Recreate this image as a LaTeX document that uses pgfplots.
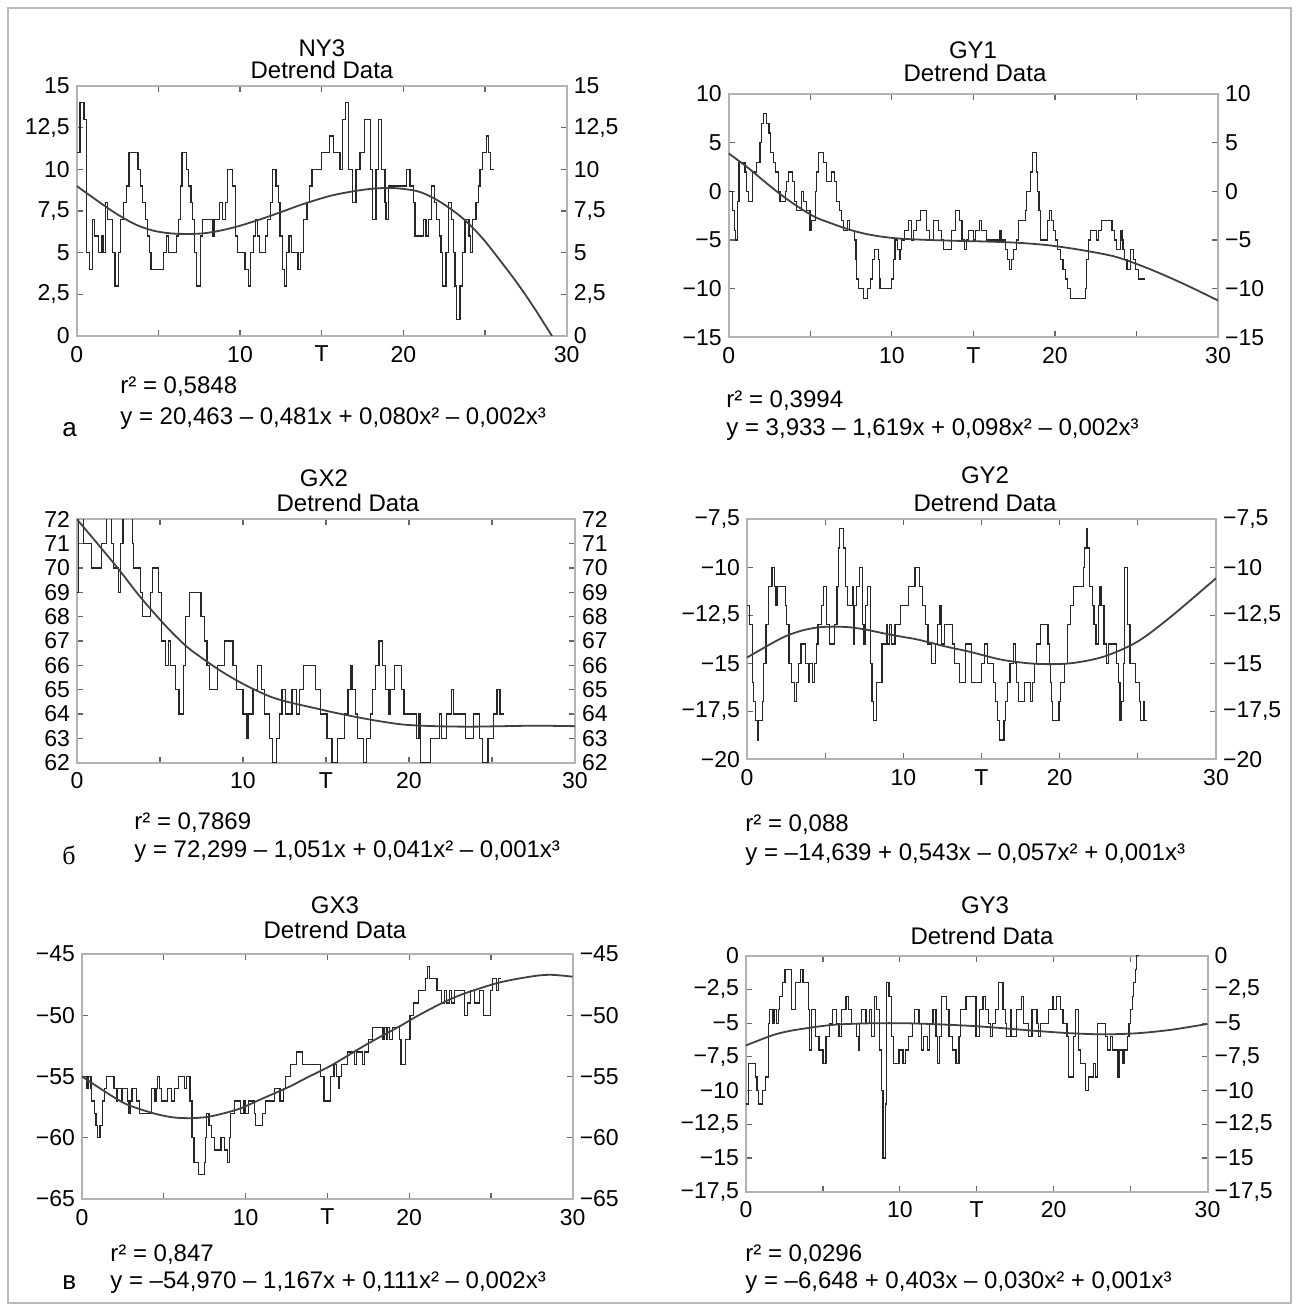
\documentclass[border=0pt]{standalone}
\usepackage{fontspec}
\setmainfont{Liberation Sans}
\newfontfamily\serifcyr{Liberation Serif}
\usepackage{pgfplots}
\pgfplotsset{compat=1.18}
\pgfplotsset{
 panel/.style={scale only axis, xmin=0, xmax=30, xtick={0,5,...,30}, xticklabels={0,,10,T,20,,30},
  axis line style={gray!60, line width=1pt}, tick style={black!60, line width=0.6pt},
  major tick length=3pt, tick align=inside,
  ticklabel style={font=\fontsize{11.5}{12}\selectfont}, xticklabel style={yshift=-1.5pt}},
 rightlab/.style={scale only axis, xmin=0, xmax=30, xtick=\empty, yticklabel pos=right,
  axis line style={draw=none}, major tick length=0pt,
  ticklabel style={font=\fontsize{11.5}{12}\selectfont}},
 data/.style={const plot, black!85, line width=0.6pt},
 fit/.style={smooth, black!75, line width=0.9pt},
}
\begin{document}
\begin{tikzpicture}
\useasboundingbox (0,0) rectangle (649.5pt,655.5pt);
% ---------------- NY3 ----------------
\begin{axis}[panel, at={(38.35pt,487.5pt)}, anchor=south west, width=245pt, height=125pt,
 ymin=0, ymax=15, ytick={0,2.5,...,15}, yticklabels={0,{2,5},5,{7,5},10,{12,5},15}]
\addplot[data] coordinates {(0.00,11) (0.20,14) (0.45,13) (0.62,5) (0.80,4) (0.98,7) (1.08,6) (1.35,5) (1.55,6) (1.65,5) (1.75,8) (1.90,7) (2.20,5) (2.35,3) (2.55,5) (2.70,7) (2.85,8) (3.05,9) (3.20,11) (3.75,10) (3.90,9) (4.05,8) (4.20,7) (4.35,6) (4.45,5) (4.55,4) (5.30,5) (5.50,6) (5.60,5) (6.10,6) (6.25,7) (6.35,9) (6.45,11) (6.70,10) (6.85,9) (7.00,8) (7.10,7) (7.20,5) (7.35,3) (7.60,6) (7.70,7) (8.30,6) (8.40,7) (8.75,8) (8.95,7) (9.10,8) (9.25,10) (9.55,9) (9.70,6) (9.85,5) (10.30,4) (10.50,3) (10.65,5) (10.80,6) (10.95,7) (11.05,6) (11.20,5) (11.55,6) (11.70,7) (11.85,8) (12.00,10) (12.20,9) (12.35,8) (12.45,6) (12.60,4) (12.70,3) (12.85,5) (13.00,6) (13.15,5) (13.55,4) (13.70,5) (13.90,7) (14.10,8) (14.25,9) (14.40,10) (15.00,11) (15.50,12) (15.71,11) (16.12,10) (16.28,13) (16.47,14) (16.63,10) (16.90,8) (17.10,10) (17.35,11) (17.60,13) (18.00,10) (18.12,7) (18.32,10) (18.47,13) (18.67,10) (18.87,8) (18.94,7) (19.08,9) (20.20,10) (20.40,9) (20.60,8) (20.71,6) (21.22,7) (21.38,6) (21.53,7) (21.73,9) (21.90,8) (22.04,7) (22.20,6) (22.30,5) (22.40,3) (22.61,5) (22.75,8) (22.96,7) (23.06,5) (23.16,3) (23.26,1) (23.47,3) (23.61,5) (23.77,7) (24.02,6) (24.12,5) (24.24,7) (24.45,8) (24.59,9) (24.69,10) (24.85,11) (25.10,12) (25.22,11) (25.34,10) (25.57,10)};
\addplot[fit] coordinates {(0,9.0) (1.63,7.86) (2.65,7.2) (3.67,6.66) (4.69,6.32) (5.71,6.16) (6.73,6.12) (7.76,6.16) (8.78,6.32) (9.8,6.56) (10.8,6.86) (11.84,7.2) (12.86,7.56) (13.88,7.92) (15.7,8.45) (17.75,8.8) (19.3,8.88) (20.8,8.7) (21.8,8.3) (22.85,7.66) (23.87,6.86) (24.9,5.8) (25.9,4.56) (26.95,3.2) (27.96,1.76) (29.1,0)};
\end{axis}
\begin{axis}[rightlab, at={(38.35pt,487.5pt)}, anchor=south west, width=245pt, height=125pt,
 ymin=0, ymax=15, ytick={0,2.5,...,15}, yticklabels={0,{2,5},5,{7,5},10,{12,5},15}]
\end{axis}
% ---------------- GY1 ----------------
\begin{axis}[panel, at={(364.35pt,486.75pt)}, anchor=south west, width=244.65pt, height=121.75pt,
 ymin=-15, ymax=10, ytick={-15,-10,...,10}, yticklabels={−15,−10,−5,0,5,10}]
\addplot[data] coordinates {(0,0) (0.25,-2) (0.35,-4) (0.43,-5) (0.55,-1) (0.63,3) (1.0,2) (1.1,0) (1.2,-1) (1.45,2) (1.72,3) (1.92,5) (2.02,7) (2.15,8) (2.33,7) (2.47,6) (2.58,4) (2.74,3) (2.85,2) (3.05,0) (3.15,-1) (3.46,0) (3.56,1) (3.66,2) (3.9,1) (4.03,-1) (4.17,-2) (4.44,0) (4.6,-1) (4.78,-2) (4.98,-4) (5.08,-3) (5.3,0) (5.4,2) (5.5,4) (5.81,3) (6.01,1) (6.28,2) (6.5,1) (6.63,-1) (6.77,-2) (6.93,-3) (7.03,-4) (7.3,-3) (7.4,-4) (7.71,-5) (7.8,-7) (7.85,-9) (7.95,-10) (8.26,-11) (8.53,-10) (8.67,-9) (8.81,-7) (8.94,-6) (9.18,-7) (9.23,-9) (9.28,-10) (9.96,-9) (10.1,-7) (10.2,-5) (10.37,-6) (10.45,-7) (10.53,-6) (10.61,-5) (10.78,-4) (11.02,-3) (11.23,-5) (11.33,-4) (11.53,-3) (11.74,-2) (12.15,-4) (12.29,-5) (12.56,-3) (12.86,-4) (13.07,-5) (13.17,-6) (13.68,-4) (13.89,-2) (14.15,-3) (14.3,-5) (14.44,-6) (14.56,-5) (14.7,-4) (15.01,-5) (15.11,-4) (15.38,-3) (15.52,-4) (15.83,-5) (16.61,-4) (16.69,-5) (16.95,-6) (17.1,-7) (17.22,-8) (17.36,-7) (17.47,-6) (17.63,-5) (17.77,-3) (18.18,-2) (18.28,0) (18.49,2) (18.63,4) (18.86,2) (18.94,0) (19.02,-2) (19.1,-5) (19.55,-3) (19.65,-2) (19.78,-3) (19.92,-4) (20.02,-5) (20.17,-6) (20.33,-7) (20.49,-8) (20.64,-9) (20.78,-10) (20.98,-11) (21.86,-10) (21.96,-7) (22.07,-5) (22.17,-4) (22.54,-5) (22.68,-4) (22.88,-3) (23.5,-4) (23.66,-5) (23.8,-6) (24.01,-4) (24.11,-5) (24.17,-6) (24.25,-7) (24.42,-8) (24.62,-6) (24.83,-7) (24.93,-8) (25.13,-9) (25.5,-9)};
\addplot[fit] coordinates {(0,3.9) (1.2,2.4) (2.23,0.96) (3.25,-0.4) (4.27,-1.6) (5.3,-2.64) (6.32,-3.3) (7.34,-3.9) (8.36,-4.35) (9.39,-4.65) (10.6,-4.86) (12.45,-5.0) (14.5,-5.1) (15.6,-5.14) (17.67,-5.27) (19.7,-5.55) (21.76,-6.06) (23.8,-6.75) (25.85,-8.0) (27.9,-9.5) (30,-11.2)};
\end{axis}
\begin{axis}[rightlab, at={(364.35pt,486.75pt)}, anchor=south west, width=244.65pt, height=121.75pt,
 ymin=-15, ymax=10, ytick={-15,-10,...,10}, yticklabels={−15,−10,−5,0,5,10}]
\end{axis}
% ---------------- GX2 ----------------
\begin{axis}[panel, at={(38.5pt,274.15pt)}, anchor=south west, width=249pt, height=121.7pt,
 ymin=62, ymax=72, ytick={62,...,72}, yticklabels={62,63,64,65,66,67,68,69,70,71,72}]
\addplot[data] coordinates {(0,69) (0.08,73) (0.38,71) (0.89,70) (1.5,71) (1.8,73) (2.1,71) (2.2,70) (2.5,69) (2.6,71) (2.77,73) (3.32,71) (3.42,70) (3.83,69) (3.93,68) (4.43,69) (4.54,70) (4.9,69) (5.08,67) (5.34,66) (5.49,67) (5.65,66) (5.95,65) (6.15,64) (6.4,66) (6.56,68) (6.76,69) (7.47,68) (7.67,67) (7.83,66) (7.98,65) (8.48,66) (8.9,67) (9.4,66) (9.6,65) (10.0,64) (10.2,63) (10.3,64) (10.6,65) (10.85,66) (11.1,65) (11.3,64) (11.6,63) (11.8,62) (12.0,63) (12.2,64) (12.35,65) (12.55,64) (12.95,65) (13.2,64) (13.4,65) (13.65,66) (14.35,65) (14.66,64) (15.06,63) (15.36,62) (15.67,63) (16.13,64) (16.33,65) (16.47,66) (16.57,65) (16.77,64) (16.88,63) (17.28,62) (17.42,63) (17.68,64) (17.78,65) (17.98,66) (18.19,67) (18.39,66) (18.59,65) (18.79,64) (18.85,65) (19.15,66) (19.56,65) (19.7,64) (20.44,63) (20.6,64) (20.7,62) (21.31,63) (21.85,64) (21.98,63) (22.26,64) (22.58,65) (22.68,64) (23.39,63) (23.87,64) (24.27,63) (24.44,62) (24.76,63) (25.08,64) (25.3,65) (25.48,64) (25.75,64)};
\addplot[fit] coordinates {(0,72) (1.6,70.7) (2.61,69.86) (3.62,68.97) (4.64,68.15) (5.65,67.4) (6.66,66.74) (7.67,66.23) (8.68,65.76) (9.7,65.35) (10.7,65.0) (11.7,64.7) (12.73,64.49) (14.6,64.2) (15.56,64.05) (17.58,63.78) (19.6,63.57) (21.6,63.5) (23.63,63.48) (25.65,63.5) (27.66,63.52) (30,63.5)};
\end{axis}
\begin{axis}[rightlab, at={(38.5pt,274.15pt)}, anchor=south west, width=249pt, height=121.7pt,
 ymin=62, ymax=72, ytick={62,...,72}, yticklabels={62,63,64,65,66,67,68,69,70,71,72}]
\end{axis}
% ---------------- GY2 ----------------
\begin{axis}[panel, at={(373.5pt,275.85pt)}, anchor=south west, width=234.5pt, height=120pt,
 ymin=-20, ymax=-7.5, ytick={-20,-17.5,...,-7.5}, yticklabels={−20,{−17,5},−15,{−12,5},−10,{−7,5}}]
\addplot[data] coordinates {(0,-12) (0.15,-13) (0.34,-16) (0.44,-17) (0.55,-18) (0.65,-19) (0.76,-18) (0.97,-17) (1.08,-15) (1.22,-13) (1.39,-11) (1.6,-10) (1.76,-11) (1.85,-12) (1.92,-11) (2.44,-12) (2.54,-13) (2.69,-15) (2.86,-16) (3.05,-17) (3.15,-16) (3.28,-15) (3.45,-14) (3.76,-15) (3.91,-16) (4.01,-15) (4.2,-16) (4.3,-15) (4.43,-14) (4.54,-13) (4.75,-12) (4.9,-11) (5.06,-13) (5.3,-14) (5.6,-13) (5.76,-11) (5.84,-9) (5.9,-8) (6.17,-9) (6.28,-11) (6.43,-12) (6.74,-11) (6.81,-14) (6.89,-12) (7.02,-11) (7.2,-10) (7.37,-13) (7.48,-14) (7.58,-12) (7.69,-11) (7.9,-15) (8.0,-17) (8.11,-18) (8.28,-16) (8.63,-14) (8.9,-13) (8.99,-14) (9.1,-13) (9.26,-14) (9.47,-13) (9.83,-12) (10.32,-11) (10.74,-10) (11.05,-11) (11.22,-12) (11.43,-13) (11.58,-14) (11.79,-15) (12.06,-14) (12.2,-13) (12.35,-12) (12.42,-14) (12.63,-13) (13.15,-14) (13.26,-15) (13.61,-16) (13.99,-14) (14.37,-16) (15.0,-15) (15.21,-14) (15.36,-15) (15.79,-16) (15.92,-17) (16.03,-18) (16.14,-19) (16.44,-18) (16.55,-17) (16.65,-16) (16.82,-15) (17.04,-14) (17.15,-15) (17.25,-16) (17.36,-17) (17.73,-16) (18.15,-17) (18.26,-16) (18.39,-15) (18.54,-14) (18.76,-13) (19.25,-14) (19.33,-15) (19.4,-16) (19.46,-17) (19.53,-18) (19.96,-17) (20.04,-16) (20.3,-15) (20.52,-13) (20.69,-12) (20.9,-11) (21.5,-10) (21.61,-9) (21.7,-8) (21.8,-9) (21.89,-11) (22.1,-12) (22.19,-13) (22.32,-14) (22.47,-12) (22.58,-11) (22.68,-12) (22.83,-14) (23.0,-15) (23.11,-14) (23.63,-15) (23.76,-16) (23.86,-18) (23.97,-17) (24.08,-15) (24.16,-10) (24.33,-13) (24.5,-15) (24.87,-16) (25.09,-17) (25.19,-18) (25.36,-17) (25.45,-18) (25.58,-18)};
\addplot[fit] coordinates {(0,-14.7) (1.39,-14.05) (2.44,-13.6) (3.49,-13.3) (4.54,-13.13) (5.59,-13.09) (6.64,-13.13) (7.69,-13.26) (8.74,-13.44) (9.79,-13.6) (10.84,-13.75) (11.89,-13.96) (12.94,-14.17) (14.25,-14.4) (16.39,-14.83) (18.54,-15.03) (20.69,-15.0) (22.83,-14.65) (24.98,-13.87) (27.12,-12.57) (30,-10.57)};
\end{axis}
\begin{axis}[rightlab, at={(373.5pt,275.85pt)}, anchor=south west, width=234.5pt, height=120pt,
 ymin=-20, ymax=-7.5, ytick={-20,-17.5,...,-7.5}, yticklabels={−20,{−17,5},−15,{−12,5},−10,{−7,5}}]
\end{axis}
% ---------------- GX3 ----------------
\begin{axis}[panel, at={(41pt,56pt)}, anchor=south west, width=245.35pt, height=122.5pt,
 ymin=-65, ymax=-45, ytick={-65,-60,...,-45}, yticklabels={−65,−60,−55,−50,−45}]
\addplot[data] coordinates {(0,-55) (0.3,-56) (0.4,-55) (0.55,-56) (0.6,-57) (0.75,-58) (0.85,-59) (0.95,-60) (1.1,-59) (1.24,-57) (1.36,-56) (1.5,-55) (1.96,-56) (2.1,-57) (2.17,-56) (2.4,-57) (2.5,-56) (2.8,-57) (2.85,-58) (2.93,-57) (3.06,-56) (3.32,-57) (3.5,-58) (4.27,-56) (4.43,-57) (4.53,-56) (4.6,-55) (4.74,-56) (4.84,-57) (5.24,-56) (5.45,-57) (5.65,-56) (5.9,-55) (6.25,-56) (6.4,-55) (6.6,-57) (6.72,-60) (6.85,-62) (7.1,-63) (7.47,-62) (7.53,-60) (7.6,-58) (7.77,-59) (7.9,-60) (8.08,-61) (8.5,-60) (8.7,-61) (8.9,-62) (9.0,-60) (9.1,-58) (9.3,-57) (9.68,-58) (9.9,-57) (10.0,-58) (10.2,-57) (10.55,-58) (10.62,-59) (11.05,-58) (11.2,-57) (11.75,-56) (12.1,-57) (12.3,-56) (12.45,-55) (12.75,-54) (13.1,-53) (13.5,-54) (14.59,-55) (14.79,-57) (15.2,-55) (15.41,-54) (15.56,-55) (15.68,-56) (15.76,-55) (15.88,-54) (16.23,-53) (16.65,-54) (16.79,-53) (17.16,-54) (17.26,-53) (17.53,-52) (17.74,-51) (18.4,-52) (18.5,-51) (18.6,-52) (18.7,-51) (18.8,-52) (19.0,-51) (19.4,-52) (19.5,-54) (19.8,-52) (20.05,-50) (20.25,-49) (20.55,-48) (21.0,-47) (21.1,-46) (21.25,-47) (21.7,-48) (22.0,-49) (22.15,-48) (22.3,-49) (22.45,-48) (22.6,-49) (22.75,-48) (23.1,-48) (23.4,-50) (23.55,-49) (23.75,-48) (24.0,-49) (24.3,-48) (24.55,-50) (24.95,-48) (25.1,-47) (25.35,-48) (25.45,-47) (25.6,-47)};
\addplot[fit] coordinates {(0,-55) (1.6,-56.4) (2.61,-57.2) (3.62,-57.7) (4.64,-58.1) (5.65,-58.35) (6.66,-58.4) (7.67,-58.3) (8.68,-58.0) (9.7,-57.6) (10.7,-57.0) (11.72,-56.4) (12.73,-55.8) (13.74,-55.1) (15.3,-54.05) (17.37,-52.4) (19.42,-50.9) (20.45,-50.1) (21.5,-49.35) (22.5,-48.7) (23.54,-48.15) (25.6,-47.3) (27.65,-46.8) (28.7,-46.7) (30,-46.85)};
\end{axis}
\begin{axis}[rightlab, at={(41pt,56pt)}, anchor=south west, width=245.35pt, height=122.5pt,
 ymin=-65, ymax=-45, ytick={-65,-60,...,-45}, yticklabels={−65,−60,−55,−50,−45}]
\end{axis}
% ---------------- GY3 ----------------
\begin{axis}[panel, at={(373pt,59.65pt)}, anchor=south west, width=230.75pt, height=118pt,
 ymin=-17.5, ymax=0, ytick={-17.5,-15,...,0}, yticklabels={{−17,5},−15,{−12,5},−10,{−7,5},−5,{−2,5},0}]
\addplot[data] coordinates {(0,-11) (0.15,-8) (0.6,-9) (0.71,-10) (0.82,-11) (1.08,-10) (1.29,-9) (1.44,-5) (1.51,-4) (1.75,-5) (1.85,-4) (1.98,-5) (2.1,-4) (2.2,-3) (2.35,-2) (2.53,-1) (2.98,-4) (3.2,-2) (3.56,-1) (3.7,-2) (4.05,-4) (4.15,-7) (4.28,-4) (4.5,-6) (4.75,-7) (5.0,-8) (5.2,-6) (5.45,-5) (5.6,-4) (5.87,-5) (6.05,-6) (6.2,-4) (6.5,-3) (6.65,-4) (6.85,-5) (7.2,-6) (7.3,-7) (7.4,-5) (7.5,-4) (7.8,-5) (8.05,-4) (8.15,-6) (8.35,-3) (8.48,-4) (8.7,-7) (8.8,-10) (8.9,-15) (9.05,-11) (9.13,-2) (9.3,-3) (9.45,-6) (9.6,-8) (9.95,-7) (10.2,-8) (10.35,-7) (10.55,-6) (10.8,-5) (10.95,-4) (11.25,-5) (11.4,-7) (11.55,-6) (11.8,-7) (11.95,-5) (12.15,-4) (12.35,-6) (12.45,-8) (12.6,-6) (12.7,-3) (13.05,-4) (13.2,-6) (13.4,-7) (13.65,-8) (13.85,-6) (13.95,-4) (14.3,-3) (14.95,-6) (15.2,-4) (15.4,-3) (15.55,-4) (15.76,-5) (15.87,-6) (16.0,-5) (16.2,-4) (16.41,-2) (16.7,-4) (16.85,-5) (16.95,-6) (17.17,-4) (17.28,-6) (17.6,-4) (17.93,-3) (18.04,-5) (18.37,-6) (18.59,-4) (18.91,-5) (19.0,-6) (19.13,-5) (19.67,-4) (19.9,-3) (20.0,-4) (20.2,-3) (20.43,-4) (20.6,-5) (20.87,-6) (20.98,-9) (21.3,-6) (21.41,-4) (21.63,-7) (21.74,-8) (22.07,-10) (22.28,-9) (22.61,-8) (22.72,-9) (22.83,-5) (23.37,-6) (23.48,-7) (23.7,-6) (23.8,-7) (24.13,-9) (24.24,-7) (24.46,-8) (24.57,-7) (24.78,-6) (24.89,-5) (25.0,-4) (25.1,-3) (25.2,-2) (25.3,-1) (25.4,0) (25.5,1) (25.55,1)};
\addplot[fit] coordinates {(0,-6.65) (1.77,-5.88) (2.84,-5.58) (3.92,-5.38) (5.0,-5.21) (6.08,-5.09) (8.23,-5.01) (10.39,-5.01) (12.54,-5.09) (14.7,-5.21) (16.74,-5.38) (18.9,-5.58) (21.09,-5.75) (23.26,-5.83) (25.43,-5.75) (27.6,-5.5) (30,-5.06)};
\end{axis}
\begin{axis}[rightlab, at={(373pt,59.65pt)}, anchor=south west, width=230.75pt, height=118pt,
 ymin=-17.5, ymax=0, ytick={-17.5,-15,...,0}, yticklabels={{−17,5},−15,{−12,5},−10,{−7,5},−5,{−2,5},0}]
\end{axis}
% ---------------- texts ----------------
\begin{scope}[x=0.5pt, y=-0.5pt, shift={(0pt,655.5pt)}, every node/.style={font=\fontsize{12}{14}\selectfont, inner sep=0pt}]
\draw[gray!55, line width=1pt] (8,8) rectangle (1291,1303);
\node at (322,48) {NY3};
\node at (322,70) {Detrend Data};
\node at (973,50) {GY1};
\node at (975,73) {Detrend Data};
\node at (324,478) {GX2};
\node at (348,503) {Detrend Data};
\node at (985,475) {GY2};
\node at (985,503) {Detrend Data};
\node at (335,905) {GX3};
\node at (335,930) {Detrend Data};
\node at (985,905) {GY3};
\node at (982,936) {Detrend Data};
\node[anchor=west] at (120,387) {r² = 0,5848};
\node[anchor=west] at (120,419) {y = 20,463 – 0,481x + 0,080x² – 0,002x³};
\node[anchor=west] at (726,401) {r² = 0,3994};
\node[anchor=west] at (726,430) {y = 3,933 – 1,619x + 0,098x² – 0,002x³};
\node[anchor=west] at (134,823) {r² = 0,7869};
\node[anchor=west] at (134,852) {y = 72,299 – 1,051x + 0,041x² – 0,001x³};
\node[anchor=west] at (745,825) {r² = 0,088};
\node[anchor=west] at (745,855) {y = –14,639 + 0,543x – 0,057x² + 0,001x³};
\node[anchor=west] at (110,1255) {r² = 0,847};
\node[anchor=west] at (110,1283) {y = –54,970 – 1,167x + 0,111x² – 0,002x³};
\node[anchor=west] at (745,1255) {r² = 0,0296};
\node[anchor=west] at (745,1283) {y = –6,648 + 0,403x – 0,030x² + 0,001x³};
\node[anchor=west, font=\fontsize{13}{14}\selectfont] at (62,430) {а};
\node[anchor=west, font=\serifcyr\fontsize{13}{14}\selectfont] at (62,855) {б};
\node[anchor=west, font=\fontsize{13}{14}\selectfont] at (62,1283) {в};
\end{scope}
\end{tikzpicture}
\end{document}
